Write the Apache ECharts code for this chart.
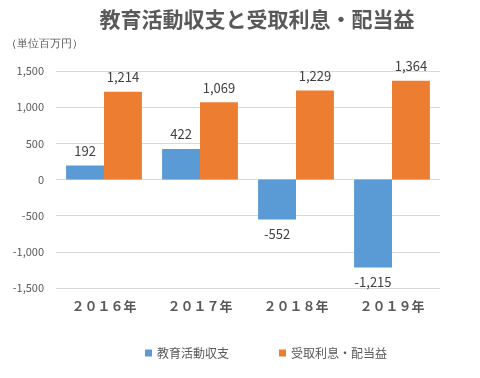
<!DOCTYPE html>
<html><head><meta charset="utf-8">
<script src="https://cdn.jsdelivr.net/npm/echarts@6/dist/echarts.min.js"></script>
<style>html,body{margin:0;padding:0;background:#fff}#c{width:480px;height:378px}</style>
</head><body><div id="c"></div>
<script>
const categories = ['２０１６年', '２０１７年', '２０１８年', '２０１９年'];
const educationBalance = [192, 422, -552, -1215];
const interestDividends = [1214, 1069, 1229, 1364];
const yTicks = [-1500, 1500, 500];
const seriesNames = ['教育活動収支', '受取利息・配当益'];

const font = '"Noto Sans CJK JP", "Noto Sans", sans-serif';
const chart = echarts.init(document.getElementById('c'));
const fmt = v => v.toLocaleString('en-US');
const withLabels = arr => arr.map(v => ({ value: v, label: { position: v < 0 ? 'bottom' : 'top' } }));
const labelBase = { show: true, formatter: p => fmt(p.value), fontSize: 13, color: '#404040', distance: 8 };
chart.setOption({
  animation: false,
  textStyle: { fontFamily: font },
  title: {
    text: '教育活動収支と受取利息・配当益',
    left: 252, top: 4, textAlign: 'center',
    textStyle: { fontSize: 21, fontWeight: 'bold', color: '#595959', fontFamily: font }
  },
  graphic: [{
    type: 'text', left: 6, top: 38,
    style: { text: '（単位百万円）', fontSize: 11, fill: '#595959', font: '11px ' + font }
  }],
  legend: {
    bottom: 14, left: 140, itemWidth: 7, itemHeight: 7, itemGap: 50,
    icon: 'rect',
    textStyle: { fontSize: 12, color: '#595959', fontFamily: font },
    data: seriesNames
  },
  grid: { left: 56, right: 40, top: 71, bottom: 90 },
  xAxis: {
    type: 'category', data: categories,
    axisLine: { show: false }, axisTick: { show: false },
    axisLabel: { interval: 0, fontSize: 13, fontWeight: 'bold', color: '#595959', margin: 12, fontFamily: font },
    position: 'bottom'
  },
  yAxis: {
    type: 'value', min: yTicks[0], max: yTicks[1], interval: yTicks[2],
    axisLabel: { formatter: fmt, fontSize: 11, color: '#595959', margin: 12 },
    splitLine: { lineStyle: { color: '#d9d9d9' } },
    axisLine: { show: false }, axisTick: { show: false }
  },
  series: [
    {
      name: seriesNames[0], type: 'bar', data: withLabels(educationBalance),
      itemStyle: { color: '#5B9BD5' }, barGap: '0%', barCategoryGap: '21%',
      label: labelBase
    },
    {
      name: seriesNames[1], type: 'bar', data: withLabels(interestDividends),
      itemStyle: { color: '#ED7D31' }, barGap: '0%', barCategoryGap: '21%',
      label: labelBase
    }
  ]
});
</script></body></html>
